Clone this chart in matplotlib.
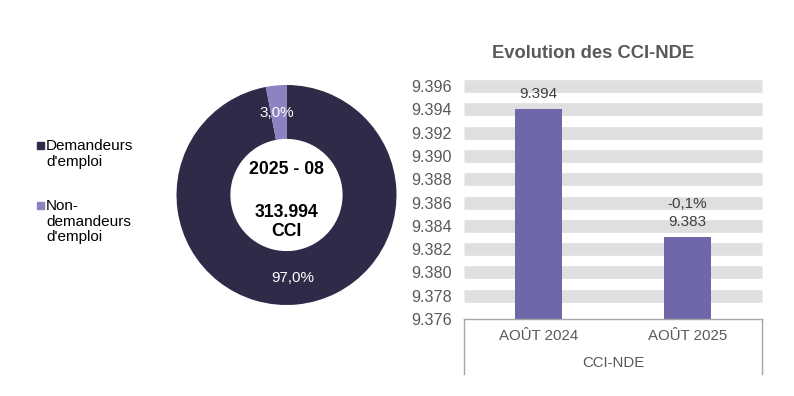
import matplotlib
matplotlib.use("Agg")
import matplotlib.pyplot as plt
from matplotlib.patches import Rectangle

plt.rcParams['font.family'] = ['Liberation Sans', 'DejaVu Sans']

# ---- data ----
pie_labels = ["Demandeurs\nd'emploi", "Non-\ndemandeurs\nd'emploi"]
pie_values = [97.0, 3.0]
pie_pct_labels = ["97,0%", "3,0%"]
center_period = "2025 - 08"
center_total = "313.994\nCCI"

bar_title = "Evolution des CCI-NDE"
bar_categories = ["AOÛT 2024", "AOÛT 2025"]
bar_values = [9394, 9383]
bar_value_labels = ["9.394", "9.383"]
bar_change_labels = ["", "-0,1%"]
bar_group = "CCI-NDE"
yticks = [9.376, 9.378, 9.380, 9.382, 9.384, 9.386, 9.388, 9.390, 9.392, 9.394, 9.396]

W, H = 794, 396
fig = plt.figure(figsize=(W / 100, H / 100), dpi=100)

def frac(x0, y0, w, h):
    return [x0 / W, (H - y0 - h) / H, w / W, h / H]

dark = "#2e2b48"
light = "#8b82c2"
barc = "#6e68ab"
gray_text = "#595959"

# ---- donut ----
cx, cy, r = 286.5, 195, 110
axp = fig.add_axes(frac(cx - 115, cy - 115, 230, 230))
wedges, _ = axp.pie(pie_values, colors=[dark, light], startangle=90, counterclock=False,
                    radius=1, wedgeprops=dict(width=0.49, edgecolor='none'))
axp.set_xlim(-230 / 220, 230 / 220)
axp.set_ylim(-230 / 220, 230 / 220)
axp.set_aspect('equal')
axp.axis('off')
axp.text((293 - cx) / r, (cy - 278) / r, pie_pct_labels[0], color='white', fontsize=11,
         ha='center', va='center')
axp.text((277 - cx) / r, (cy - 113) / r, pie_pct_labels[1], color='white', fontsize=11,
         ha='center', va='center')
axp.text(0, (cy - 170) / r, center_period, fontsize=12.7, fontweight='bold', ha='center',
         va='center', color='black')
axp.text(0, (cy - 222) / r, center_total, fontsize=12.7, fontweight='bold', ha='center',
         va='center', color='black', linespacing=1.1)

# ---- legend ----
leg_y = [145, 205]
for lab, col, y in zip(pie_labels, [dark, light], leg_y):
    fig.patches.append(Rectangle((37 / W, (H - y - 4) / H), 7 / W, 7 / H, color=col,
                                 transform=fig.transFigure))
    fig.text(46 / W, (H - y + 6) / H, lab, fontsize=11, color='black', ha='left', va='top',
             linespacing=1.15)

# ---- bar chart ----
ax = fig.add_axes(frac(464, 86, 298, 233))
ax.set_xlim(-0.5, 1.5)
ax.set_ylim(9.376, 9.396)
for t in yticks[1:]:
    ax.axhline(t, color="#dfdfdf", lw=9.1, zorder=0, clip_on=False, solid_capstyle='butt')
vals = [v / 1000 for v in bar_values]
ax.bar(range(len(vals)), vals, width=0.315, color=barc, zorder=2)
for sp in ax.spines.values():
    sp.set_visible(False)
ax.set_yticks(yticks)
ax.set_yticklabels([f"{t:.3f}" for t in yticks])
ax.tick_params(axis='y', length=0, pad=8.5, labelsize=11.6, labelcolor=gray_text)
ax.set_xticks([])
for i, v in enumerate(vals):
    ax.text(i, v + 0.0013, bar_value_labels[i], ha='center', va='center', fontsize=11,
            color="#404040")
    if bar_change_labels[i]:
        ax.text(i, v + 0.0029, bar_change_labels[i], ha='center', va='center', fontsize=11,
                color="#404040")

tr = ax.get_xaxis_transform()
ax.plot([-0.5, 1.5], [0, 0], color="#a6a6a6", lw=1, transform=tr, clip_on=False, zorder=3)
for xx in [-0.5, 1.5]:
    ax.plot([xx, xx], [0, -55 / 233], color="#a6a6a6", lw=1, transform=tr, clip_on=False)
for i, c in enumerate(bar_categories):
    ax.text(i, -17 / 233, c, transform=tr, ha='center', va='center', fontsize=10.8,
            color=gray_text)
ax.text(0.5, -44 / 233, bar_group, transform=tr, ha='center', va='center', fontsize=10.8,
        color=gray_text)

fig.text(593 / W, (H - 53) / H, bar_title, ha='center', va='center', fontsize=13.2,
         fontweight='bold', color=gray_text)

fig.savefig("out.png", dpi=100, facecolor='white')
